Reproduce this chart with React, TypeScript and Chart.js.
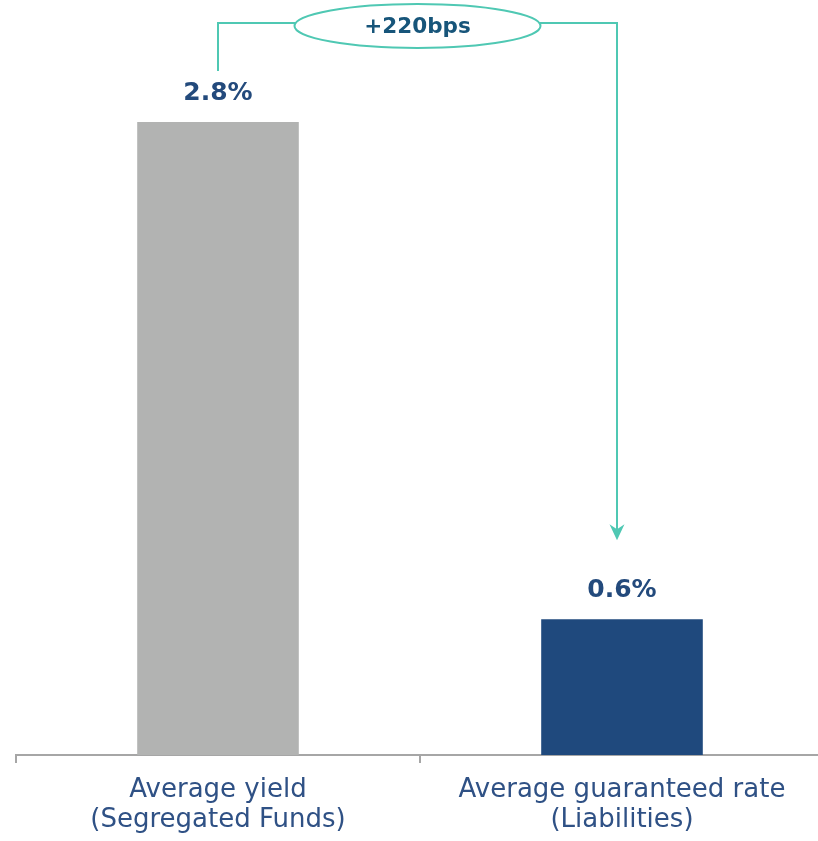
import React, { useEffect, useRef } from "react";
import { Chart, registerables } from "chart.js";

Chart.register(...registerables);

const categories: string[][] = [
  ["Average yield", "(Segregated Funds)"],
  ["Average guaranteed rate", "(Liabilities)"],
];
const values: number[] = [2.8, 0.6];
const valueLabels: string[] = ["2.8%", "0.6%"];
const barColors: string[] = ["#b2b3b2", "#1f497d"];
const spreadLabel = "+220bps";

const TEAL = "#4fc8b3";
const FONT = "'DejaVu Sans', 'Noto Sans', sans-serif";

const annotationPlugin = {
  id: "spreadAnnotation",
  afterDatasetsDraw(chart: any) {
    const ctx = chart.ctx as CanvasRenderingContext2D;
    const meta = chart.getDatasetMeta(0);
    const b1 = meta.data[0];
    const b2 = meta.data[1];
    ctx.save();
    // value labels
    ctx.font = `bold 25px ${FONT}`;
    ctx.fillStyle = "#234a7c";
    ctx.textAlign = "center";
    ctx.textBaseline = "middle";
    meta.data.forEach((b: any, i: number) => {
      ctx.fillText(valueLabels[i], b.x, b.y - 29);
    });
    // bracket
    const x1 = b1.x;
    const x2 = b2.x - 5;
    const yTop = b1.y - 99;
    const y1Bottom = b1.y - 51;
    const tip = b2.y - 79;
    ctx.strokeStyle = TEAL;
    ctx.lineWidth = 2;
    ctx.beginPath();
    ctx.moveTo(x1, y1Bottom);
    ctx.lineTo(x1, yTop);
    ctx.lineTo(x2, yTop);
    ctx.lineTo(x2, tip - 10);
    ctx.stroke();
    ctx.fillStyle = TEAL;
    ctx.beginPath();
    ctx.moveTo(x2, tip);
    ctx.lineTo(x2 - 7.5, tip - 16);
    ctx.lineTo(x2, tip - 11);
    ctx.lineTo(x2 + 7.5, tip - 16);
    ctx.closePath();
    ctx.fill();
    // ellipse
    const cx = (x1 + x2) / 2;
    const cy = yTop + 3;
    ctx.beginPath();
    ctx.ellipse(cx, cy, 123, 22, 0, 0, Math.PI * 2);
    ctx.fillStyle = "#ffffff";
    ctx.fill();
    ctx.lineWidth = 2;
    ctx.stroke();
    ctx.fillStyle = "#17557a";
    ctx.font = `bold 21.5px ${FONT}`;
    ctx.fillText(spreadLabel, cx, cy + 1);
    ctx.restore();
  },
};

export default function App() {
  const ref = useRef<HTMLCanvasElement | null>(null);
  useEffect(() => {
    if (!ref.current) return;
    const chart = new Chart(ref.current, {
      type: "bar",
      data: {
        labels: categories,
        datasets: [
          {
            data: values,
            backgroundColor: barColors,
            borderWidth: 0,
            barPercentage: 1,
            categoryPercentage: 0.4,
          },
        ],
      },
      options: {
        animation: false,
        responsive: false,
        devicePixelRatio: 1,
        layout: { padding: { left: 16, right: 6, top: 9, bottom: 0 } },
        plugins: { legend: { display: false }, tooltip: { enabled: false } },
        scales: {
          y: { display: false, min: 0, max: 3.3 },
          x: {
            afterFit: (scale: any) => {
              scale.height = 86;
            },
            border: { display: true, color: "#a6a6a6", width: 2 },
            grid: {
              display: true,
              drawOnChartArea: false,
              drawTicks: true,
              tickLength: 8,
              color: "#a6a6a6",
              lineWidth: 2,
              offset: true,
            },
            ticks: {
              color: "#2f5185",
              padding: 12,
              font: { family: FONT, size: 26, lineHeight: "30px" as any, weight: "normal" as any },
              maxRotation: 0,
              autoSkip: false,
            },
          },
        },
      },
      plugins: [annotationPlugin],
    });
    return () => chart.destroy();
  }, []);
  return (
    <div style={{ position: "absolute", left: 0, top: 0, width: 818, height: 841, overflow: "hidden", background: "#fff" }}>
      <canvas ref={ref} width={830} height={841} style={{ width: 830, height: 841, display: "block" }} />
    </div>
  );
}
